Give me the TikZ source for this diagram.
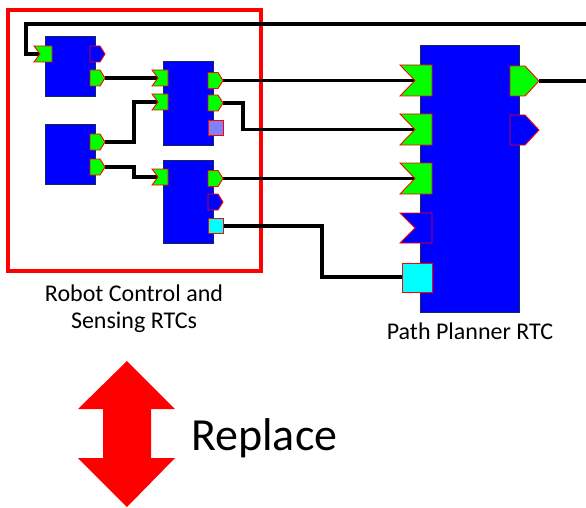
\documentclass[tikz,border=0pt]{standalone}
\usepackage{fontspec}
\setmainfont{Carlito}
\definecolor{pgreen}{RGB}{0,255,0}
\definecolor{pblue}{RGB}{0,0,255}
\definecolor{pcyan}{RGB}{0,255,255}
\definecolor{plav}{RGB}{128,128,255}
\definecolor{pred}{RGB}{255,0,0}
\definecolor{pnavy}{RGB}{20,40,90}
\begin{document}
\begin{tikzpicture}[x=1pt,y=-1pt,
  block/.style={draw=pnavy,fill=pblue,line width=0.9pt,inner sep=0pt,anchor=north west},
  portline/.style={draw=pred,line width=0.9pt},
  wire/.style={line width=3.2pt,black},
  lbl/.style={font=\fontsize{24}{27}\selectfont,anchor=base,inner sep=0pt}]
\useasboundingbox (0,0) rectangle (586,508);
\newcommand\inport[7]{% name,x,y,w,h,depth,fill
  \filldraw[portline,fill=#7] (#2,#3) -- ({#2+#4},#3) -- ({#2+#4},{#3+#5}) -- (#2,{#3+#5}) -- ({#2+#6},{#3+#5/2}) -- cycle;
  \coordinate (#1) at ({#2+#6},{#3+#5/2});}
\newcommand\outport[7]{% name,x,y,w,h,tip,fill
  \filldraw[portline,fill=#7] (#2,#3) -- ({#2+#4-#6},#3) -- ({#2+#4},{#3+#5/2}) -- ({#2+#4-#6},{#3+#5}) -- (#2,{#3+#5}) -- cycle;
  \coordinate (#1) at ({#2+#4},{#3+#5/2});}
\newcommand\sqport[6]{% name,x,y,w,h,fill
  \filldraw[portline,fill=#6] (#2,#3) rectangle ({#2+#4},{#3+#5});
  \coordinate (#1L) at (#2,{#3+#5/2});
  \coordinate (#1R) at ({#2+#4},{#3+#5/2});}
% red frame
\draw[pred,line width=3.2pt] (8,10) rectangle (261,271);
% wire end points
\coordinate (E1) at (586,24);
\coordinate (E2) at (586,81);
\coordinate (Ain) at (40,54);
\coordinate (Aout2) at (105,78);
\coordinate (Bout1) at (105,142);
\coordinate (Bout2) at (105,167);
\coordinate (Cin1) at (158,78);
\coordinate (Cin2) at (158,102);
\coordinate (Din1) at (158,177);
\coordinate (Cout1) at (223,80.5);
\coordinate (Cout2) at (223,103);
\coordinate (Dout1) at (223,178.5);
\coordinate (DsqR) at (223,226);
\coordinate (Pin1) at (415,80.5);
\coordinate (Pin2) at (415,129.5);
\coordinate (Pin3) at (415,178.5);
\coordinate (PsqL) at (402,277);
\coordinate (Pout1) at (539,81);
% wires (behind ports)
\draw[wire] (E1) -- (26,24) |- (Ain);
\draw[wire] (Aout2) -- (Cin1);
\draw[wire] (Bout1) -- (134,142) |- (Cin2);
\draw[wire] (Bout2) -- (134,167) |- (Din1);
\draw[wire] (Cout1) -- (Pin1);
\draw[wire] (Cout2) -- (243,103) |- (Pin2);
\draw[wire] (Dout1) -- (Pin3);
\draw[wire] (DsqR) -- (322,226) |- (PsqL);
\draw[wire] (Pout1) -- (E2);
% blocks
\node[block,minimum width=50pt,minimum height=60pt] (A) at (45,36) {};
\node[block,minimum width=50pt,minimum height=60pt] (B) at (45,124) {};
\node[block,minimum width=50pt,minimum height=84pt] (C) at (163,61) {};
\node[block,minimum width=50pt,minimum height=83pt] (D) at (163,160) {};
\node[block,minimum width=99pt,minimum height=267pt] (P) at (420,45) {};
% ports on A
\inport{Ain}{34}{46}{18}{16}{6}{pgreen}
\outport{Aout1}{90}{46}{15}{16}{5}{pblue}
\outport{Aout2}{90}{70}{15}{16}{5}{pgreen}
% ports on B
\outport{Bout1}{90}{134}{15}{16}{5}{pgreen}
\outport{Bout2}{90}{159}{15}{16}{5}{pgreen}
% ports on C
\inport{Cin1}{152}{70}{16}{16}{6}{pgreen}
\inport{Cin2}{152}{94}{16}{16}{6}{pgreen}
\outport{Cout1}{208}{72.5}{15}{16}{5}{pgreen}
\outport{Cout2}{208}{95}{15}{16}{5}{pgreen}
\sqport{Csq}{208}{120}{15}{15}{plav}
% ports on D
\inport{Din1}{152}{169}{16}{16}{6}{pgreen}
\outport{Dout1}{208}{170.5}{15}{16}{5}{pgreen}
\outport{Dout2}{208}{194}{15}{16}{5}{pblue}
\sqport{Dsq}{208}{218}{15}{15}{pcyan}
% ports on P
\inport{Pin1}{400}{65}{32}{31}{15}{pgreen}
\inport{Pin2}{400}{114}{32}{31}{15}{pgreen}
\inport{Pin3}{400}{163}{32}{31}{15}{pgreen}
\inport{Pin4}{400}{213}{32}{30}{15}{pblue}
\sqport{Psq}{402}{263}{30}{29}{pcyan}
\outport{Pout1}{510}{66}{29}{30}{14}{pgreen}
\outport{Pout2}{510}{115}{29}{30}{14}{pblue}
% labels
\node[lbl] (L1a) at (134,301) {Robot Control and};
\node[lbl] (L1b) at (134,328) {Sensing RTCs};
\node[lbl] (L2) at (470,339) {Path Planner RTC};
% double arrow
\fill[pred] (127,361) -- (175,409) -- (151,409) -- (151,458) -- (175,458) -- (127,507)
  -- (78,458) -- (103,458) -- (103,409) -- (78,409) -- cycle;
\node[font=\fontsize{46}{52}\selectfont,anchor=base west,inner sep=0pt] (R) at (191,450) {Replace};
\end{tikzpicture}
\end{document}
